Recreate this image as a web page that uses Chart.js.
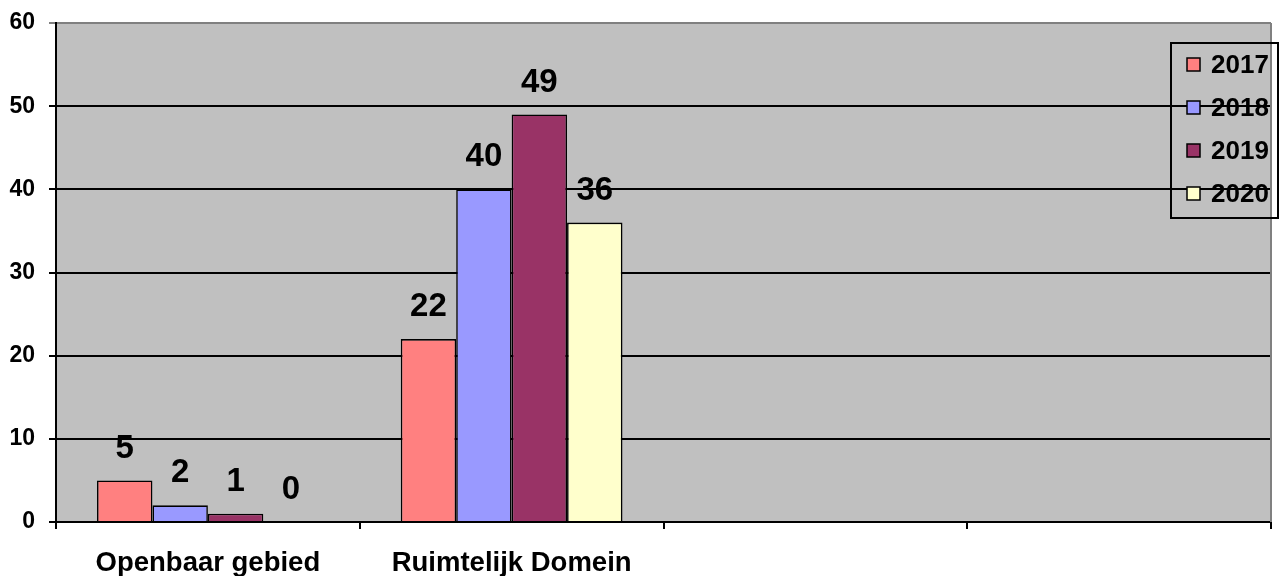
<!DOCTYPE html>
<html>
<head>
<meta charset="utf-8">
<title>Openbaar gebied / Ruimtelijk Domein</title>
<script src="https://cdn.jsdelivr.net/npm/chart.js@4/dist/chart.umd.min.js"></script>
<style>
  html, body { margin: 0; padding: 0; background: #fff; }
  canvas { display: block; }
</style>
</head>
<body>
<canvas id="myChart" width="1282" height="576"></canvas>
<script>
const categories = ["Openbaar gebied", "Ruimtelijk Domein", "", ""];
const years = ["2017", "2018", "2019", "2020"];
const values2017 = [5, 22, null, null];
const values2018 = [2, 40, null, null];
const values2019 = [1, 49, null, null];
const values2020 = [0, 36, null, null];
const yTicks = [0, 10, 20, 30, 40, 50, 60];

const barColors = ["#FF8080", "#9999FF", "#993366", "#FFFFCC"];
const FONT = "Arial, 'Liberation Sans', sans-serif";

// grey plot background plus the grey right-hand frame line
const plotBackground = {
  id: "plotBackground",
  beforeDraw(chart) {
    const { ctx, chartArea: a } = chart;
    ctx.save();
    ctx.fillStyle = "#C0C0C0";
    ctx.fillRect(a.left, a.top, a.right - a.left, a.bottom - a.top);
    ctx.restore();
  },
  afterDraw(chart) {
    const { ctx, chartArea: a } = chart;
    ctx.save();
    ctx.strokeStyle = "#808080";
    ctx.lineWidth = 2;
    ctx.beginPath();
    ctx.moveTo(a.right, a.top);
    ctx.lineTo(a.right, a.bottom);
    ctx.stroke();
    ctx.restore();
  }
};

// value labels above each bar
const valueLabels = {
  id: "valueLabels",
  afterDatasetsDraw(chart) {
    const ctx = chart.ctx;
    ctx.save();
    ctx.font = "bold 33px " + FONT;
    ctx.fillStyle = "#000";
    ctx.textAlign = "center";
    ctx.textBaseline = "middle";
    chart.data.datasets.forEach((ds, i) => {
      chart.getDatasetMeta(i).data.forEach((bar, j) => {
        const v = ds.data[j];
        if (v === null || v === undefined) return;
        ctx.fillText(String(v), bar.x, bar.y - 32);
      });
    });
    ctx.restore();
  }
};

// framed legend box on the right
const boxLegend = {
  id: "boxLegend",
  afterDraw(chart) {
    const ctx = chart.ctx;
    const x = 1171, y = 43, w = 107, h = 175;
    ctx.save();
    ctx.strokeStyle = "#000";
    ctx.lineWidth = 2;
    ctx.strokeRect(x, y, w, h);
    ctx.font = "bold 26px " + FONT;
    ctx.textBaseline = "middle";
    ctx.textAlign = "left";
    chart.data.datasets.forEach((ds, i) => {
      const cy = 64.5 + i * 43;
      ctx.fillStyle = ds.backgroundColor;
      ctx.fillRect(1187, cy - 6.5, 13, 13);
      ctx.lineWidth = 1.5;
      ctx.strokeRect(1187, cy - 6.5, 13, 13);
      ctx.fillStyle = "#000";
      ctx.fillText(ds.label, 1211, cy + 1);
    });
    ctx.restore();
  }
};

const seriesValues = [values2017, values2018, values2019, values2020];

new Chart(document.getElementById("myChart"), {
  type: "bar",
  data: {
    labels: categories,
    datasets: years.map((yr, i) => ({
      label: yr,
      data: seriesValues[i],
      backgroundColor: barColors[i],
      borderColor: "#000",
      borderWidth: 1.6,
      borderSkipped: "bottom",
      barPercentage: 1,
      categoryPercentage: 0.73
    }))
  },
  options: {
    responsive: false,
    animation: false,
    devicePixelRatio: 1,
    layout: { padding: { top: 23, right: 11, left: 0, bottom: 0 } },
    plugins: {
      legend: { display: false },
      tooltip: { enabled: false }
    },
    scales: {
      x: {
        grid: {
          offset: true,
          drawOnChartArea: false,
          drawTicks: true,
          tickLength: 7,
          color: "#000",
          lineWidth: 2
        },
        border: { color: "#000", width: 2 },
        ticks: {
          color: "#000",
          font: { family: FONT, size: 27.5, weight: "bold" },
          maxRotation: 0,
          autoSkip: false,
          padding: 18
        },
        afterFit(scale) {
          scale.height = 54;
          scale.paddingLeft = 0;
          scale.paddingRight = 0;
        }
      },
      y: {
        min: 0,
        max: 60,
        afterBuildTicks(scale) {
          scale.ticks = yTicks.map(v => ({ value: v }));
        },
        grid: {
          color: c => (c.tick && c.tick.value === 60 ? "#808080" : "#000"),
          lineWidth: 2,
          tickLength: 7,
          drawTicks: true
        },
        border: { color: "#000", width: 2 },
        ticks: {
          color: "#000",
          font: { family: FONT, size: 23, weight: "bold" },
          padding: 14
        },
        afterFit(scale) {
          scale.width = 56;
          scale.paddingTop = 0;
          scale.paddingBottom = 0;
        }
      }
    }
  },
  plugins: [plotBackground, valueLabels, boxLegend]
});
</script>
</body>
</html>
